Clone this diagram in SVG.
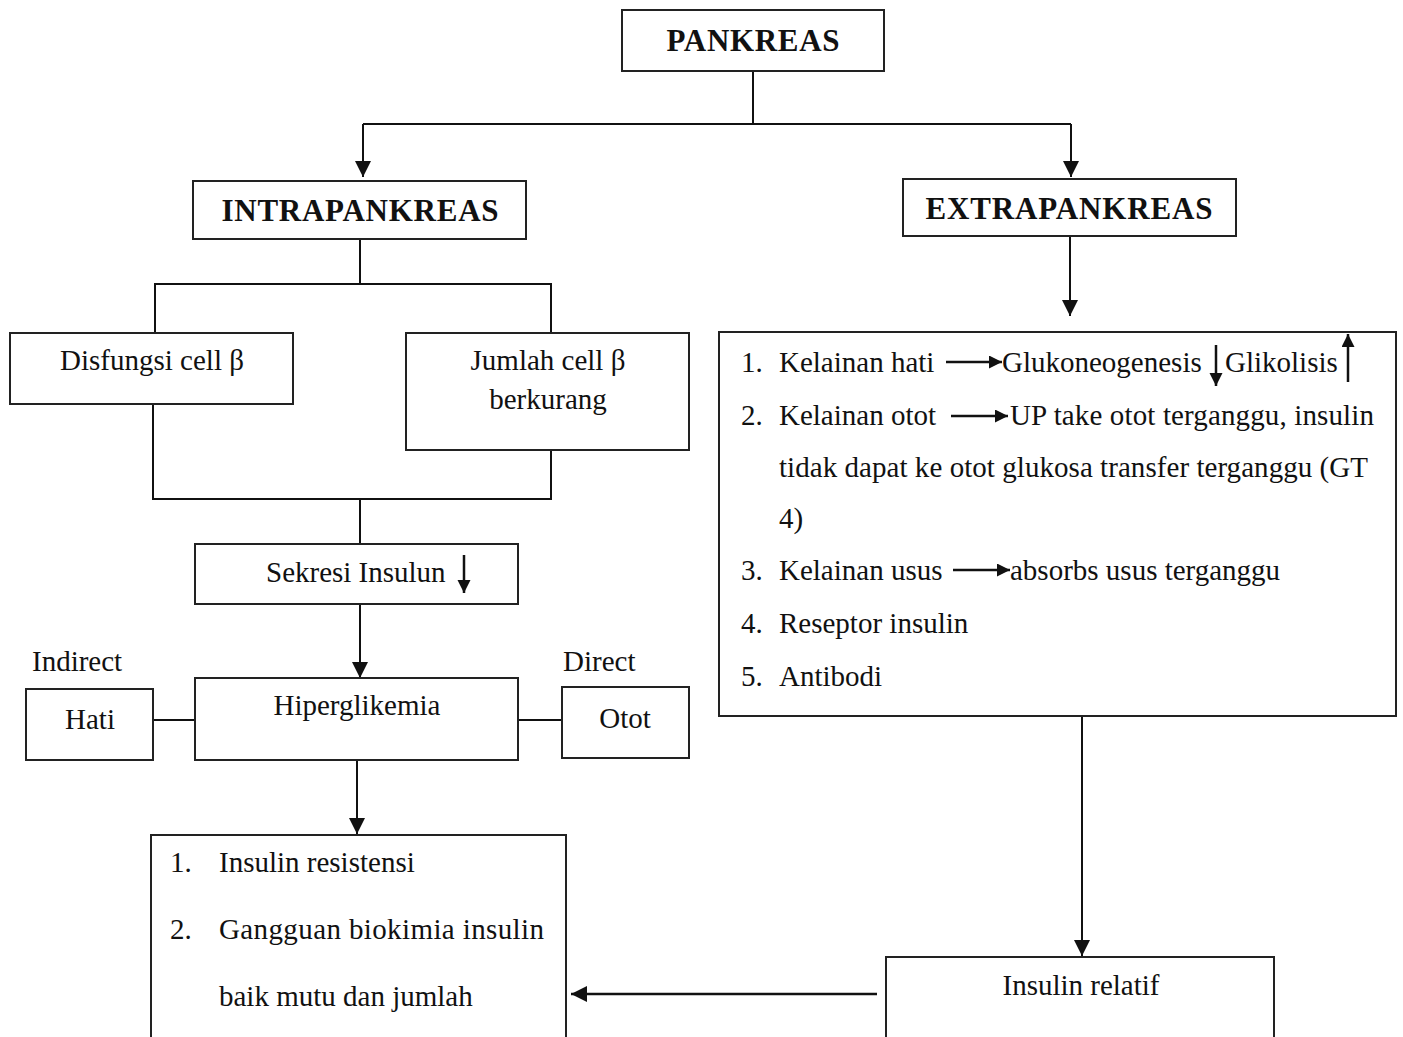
<svg xmlns="http://www.w3.org/2000/svg" width="1403" height="1037" viewBox="0 0 1403 1037">
<style>
.box{fill:#fff;stroke:#222;stroke-width:2}
.ln{fill:none;stroke:#111;stroke-width:2}
.lt{fill:none;stroke:#111;stroke-width:2.5}
.t{font-family:"Liberation Serif","Times New Roman",serif;font-size:29px;fill:#111}
.b{font-weight:bold;font-size:31px}
.m{text-anchor:middle}
</style>
<defs>
<marker id="ah" markerWidth="18" markerHeight="18" refX="16" refY="8" orient="auto" markerUnits="userSpaceOnUse">
<path d="M0,0 L16,8 L0,16 Z" fill="#111"/>
</marker>
<marker id="sm" markerWidth="14" markerHeight="14" refX="13" refY="6.5" orient="auto" markerUnits="userSpaceOnUse">
<path d="M0,0 L13,6.5 L0,13 Z" fill="#111"/>
</marker>
</defs>
<rect width="1403" height="1037" fill="#fff"/>
<g id="connectors">
<path class="ln" d="M753,71 V124 M363,124 H1071"/>
<path class="ln" d="M363,124 V177" marker-end="url(#ah)"/>
<path class="ln" d="M1071,124 V177" marker-end="url(#ah)"/>
<path class="ln" d="M360,239 V284 M155,333 V284 H551 V333"/>
<path class="ln" d="M153,404 V499 H551 V450 M360,499 V544"/>
<path class="ln" d="M360,604 V678" marker-end="url(#ah)"/>
<path class="ln" d="M153,720 H195 M518,720 H562"/>
<path class="ln" d="M357,760 V834" marker-end="url(#ah)"/>
<path class="ln" d="M1070,236 V316" marker-end="url(#ah)"/>
<path class="ln" d="M1082,716 V956" marker-end="url(#ah)"/>
<path class="lt" d="M877,994 H571" marker-end="url(#ah)"/>
</g>
<g id="pankreas">
<rect class="box" x="622" y="10" width="262" height="61"/>
<text class="t b m" x="753" y="51" textLength="173">PANKREAS</text>
</g>
<g id="intrapankreas">
<rect class="box" x="193" y="181" width="333" height="58"/>
<text class="t b m" x="360" y="221" textLength="277">INTRAPANKREAS</text>
</g>
<g id="extrapankreas">
<rect class="box" x="903" y="179" width="333" height="57"/>
<text class="t b m" x="1069" y="219" textLength="287">EXTRAPANKREAS</text>
</g>
<g id="disfungsi">
<rect class="box" x="10" y="333" width="283" height="71"/>
<text class="t m" x="152" y="370">Disfungsi cell β</text>
</g>
<g id="jumlah">
<rect class="box" x="406" y="333" width="283" height="117"/>
<text class="t m" x="548" y="370">Jumlah cell β</text>
<text class="t m" x="548" y="409">berkurang</text>
</g>
<g id="sekresi">
<rect class="box" x="195" y="544" width="323" height="60"/>
<text class="t" x="266" y="582">Sekresi Insulun</text>
<path class="lt" d="M464,555 V593" marker-end="url(#sm)"/>
</g>
<g id="hiperglikemia">
<rect class="box" x="195" y="678" width="323" height="82"/>
<text class="t m" x="357" y="715">Hiperglikemia</text>
</g>
<g id="hati">
<text class="t" x="32" y="671">Indirect</text>
<rect class="box" x="26" y="689" width="127" height="71"/>
<text class="t m" x="90" y="729">Hati</text>
</g>
<g id="otot">
<text class="t" x="563" y="671">Direct</text>
<rect class="box" x="562" y="687" width="127" height="71"/>
<text class="t m" x="625" y="728">Otot</text>
</g>
<g id="akibat">
<rect class="box" x="151" y="835" width="415" height="215"/>
<text class="t" x="170" y="872">1.</text>
<text class="t" x="219" y="872">Insulin resistensi</text>
<text class="t" x="170" y="939">2.</text>
<text class="t" x="219" y="939" textLength="325">Gangguan biokimia insulin</text>
<text class="t" x="219" y="1006">baik mutu dan jumlah</text>
</g>
<g id="kelainan">
<rect class="box" x="719" y="332" width="677" height="384"/>
<text class="t" x="741" y="372">1.</text>
<text class="t" x="779" y="372">Kelainan hati</text>
<path class="lt" d="M946,362 H1002" marker-end="url(#sm)"/>
<text class="t" x="1002" y="372">Glukoneogenesis</text>
<path class="lt" d="M1216,345 V386" marker-end="url(#sm)"/>
<text class="t" x="1225" y="372">Glikolisis</text>
<path class="lt" d="M1348,382 V334" marker-end="url(#sm)"/>
<text class="t" x="741" y="425">2.</text>
<text class="t" x="779" y="425">Kelainan otot</text>
<path class="lt" d="M951,416 H1008" marker-end="url(#sm)"/>
<text class="t" x="1010" y="425" textLength="364">UP take otot terganggu, insulin</text>
<text class="t" x="779" y="477" textLength="589">tidak dapat ke otot glukosa transfer terganggu (GT</text>
<text class="t" x="779" y="528">4)</text>
<text class="t" x="741" y="580">3.</text>
<text class="t" x="779" y="580">Kelainan usus</text>
<path class="lt" d="M953,570 H1010" marker-end="url(#sm)"/>
<text class="t" x="1010" y="580">absorbs usus terganggu</text>
<text class="t" x="741" y="633">4.</text>
<text class="t" x="779" y="633">Reseptor insulin</text>
<text class="t" x="741" y="686">5.</text>
<text class="t" x="779" y="686">Antibodi</text>
</g>
<g id="insulin-relatif">
<rect class="box" x="886" y="957" width="388" height="100"/>
<text class="t m" x="1081" y="995">Insulin relatif</text>
</g>
</svg>
